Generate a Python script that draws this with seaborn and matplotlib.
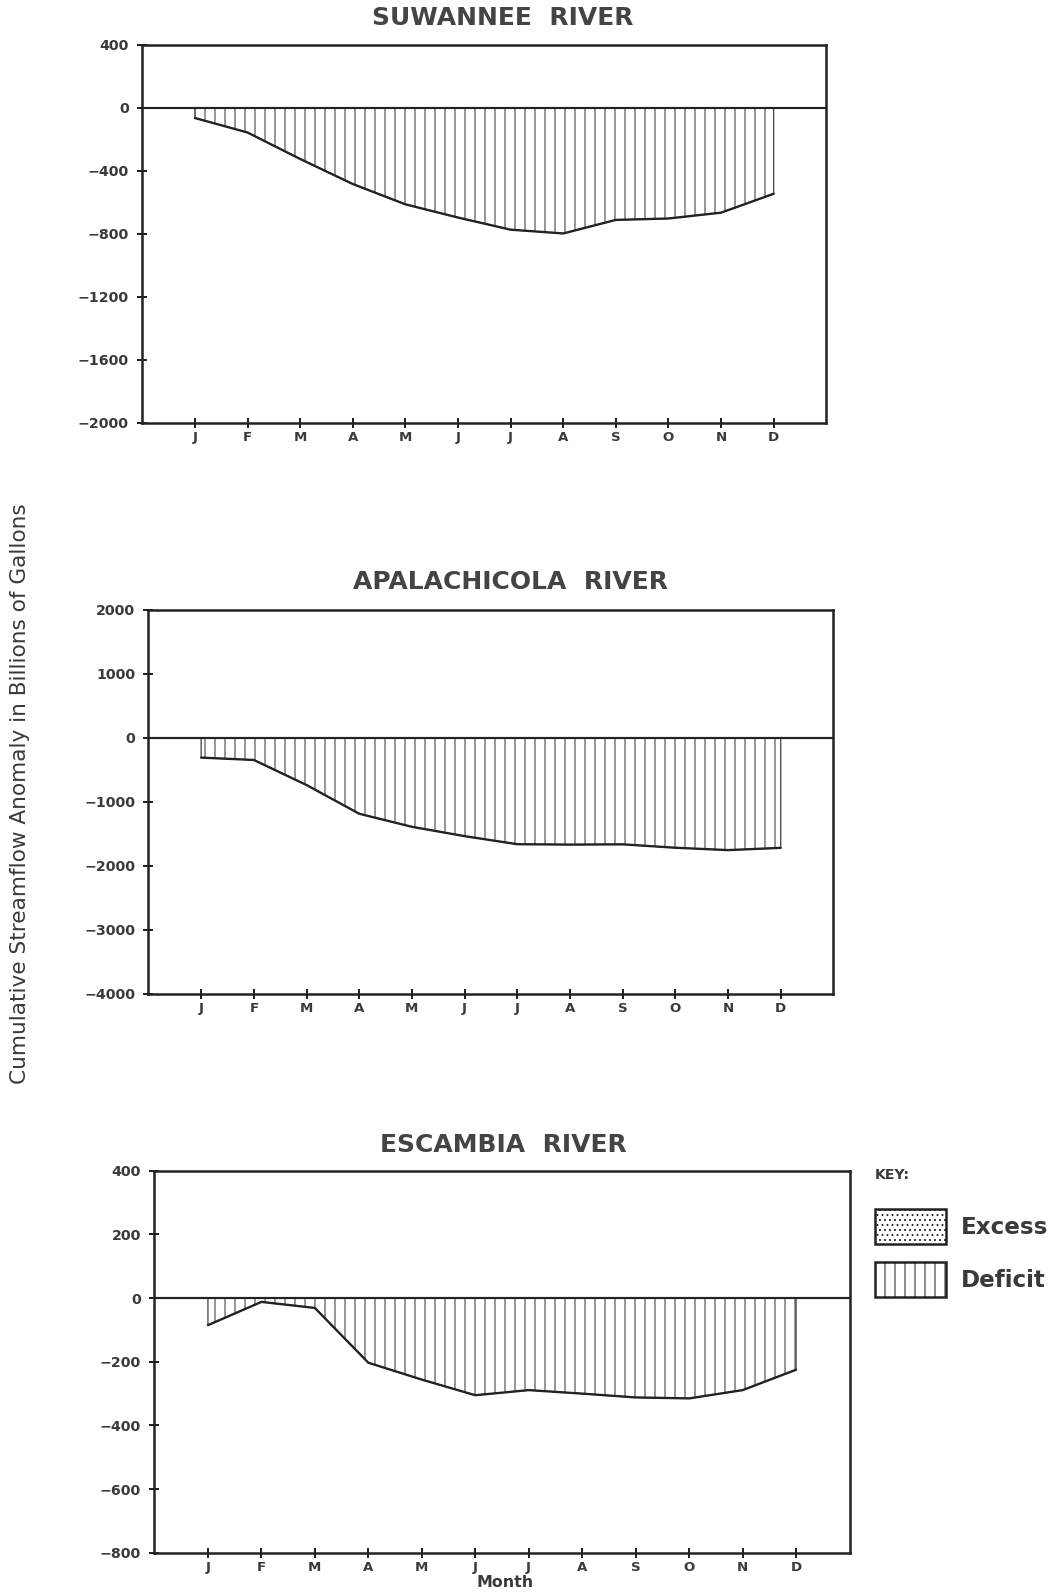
import matplotlib
matplotlib.use("Agg")
import matplotlib.pyplot as plt
import numpy as np
import pandas as pd
import seaborn as sns
from matplotlib.patches import Patch

# Monthly cumulative streamflow anomaly, billions of gallons
months = ["J", "F", "M", "A", "M", "J", "J", "A", "S", "O", "N", "D"]
suwannee = [-65, -157, -325, -484, -613, -697, -774, -798, -712, -703, -666, -546]
apalachicola = [-309, -346, -737, -1186, -1390, -1536, -1662, -1668, -1664, -1717, -1754, -1719]
escambia = [-85, -12, -31, -203, -256, -305, -289, -300, -312, -315, -289, -225]

titles = ["SUWANNEE  RIVER", "APALACHICOLA  RIVER", "ESCAMBIA  RIVER"]
y_limits = [(-2000, 400), (-4000, 2000), (-800, 400)]
y_steps = [400, 1000, 200]

sns.set_theme(style="white")
plt.rcParams["font.family"] = ["DejaVu Sans"]
plt.rcParams["hatch.linewidth"] = 0.6
plt.rcParams["hatch.color"] = "#333333"

INK = "#222222"
TXT = "#3a3a3a"

fig = plt.figure(figsize=(1061 / 120, 1593 / 120), dpi=120)
fig.patch.set_facecolor("white")

# axes rectangles [left, bottom, width, height]
rects = [
    [0.1341, 0.7346, 0.6447, 0.2373],
    [0.1399, 0.3761, 0.6456, 0.2411],
    [0.1456, 0.0252, 0.6551, 0.2399],
]
title_pos = [(0.474, 0.9885), (0.481, 0.6345), (0.4745, 0.2813)]

series = [suwannee, apalachicola, escambia]
for vals, title, rect, ylim, step, tpos in zip(series, titles, rects, y_limits, y_steps, title_pos):
    ax = fig.add_axes(rect)
    df = pd.DataFrame({"month": np.arange(len(months)), "anomaly": vals})
    ax.fill_between(df["month"], df["anomaly"], 0, facecolor="none",
                    edgecolor="#333333", hatch="||", linewidth=0.7)
    sns.lineplot(data=df, x="month", y="anomaly", color=INK, linewidth=1.4, ax=ax)
    ax.axhline(0, color=INK, linewidth=1.3)

    ax.set_xlim(-1, 12)
    ax.set_ylim(*ylim)
    ax.set_xticks(np.arange(len(months)))
    ax.set_xticklabels(months)
    ax.set_yticks(np.arange(ylim[0], ylim[1] + 1, step))
    ax.set_xlabel("")
    ax.set_ylabel("")
    for sp in ax.spines.values():
        sp.set_visible(True)
        sp.set_color(INK)
        sp.set_linewidth(1.5)
    ax.tick_params(axis="both", which="major", bottom=True, left=True,
                   direction="inout", length=6, width=1.2, color=INK,
                   labelcolor=TXT)
    ax.tick_params(axis="x", pad=2, labelsize=8)
    ax.tick_params(axis="y", pad=5, labelsize=8.5)
    for lab in ax.get_xticklabels() + ax.get_yticklabels():
        lab.set_fontweight("bold")
    ax.set_facecolor("white")

    fig.text(tpos[0], tpos[1], title, ha="center", va="center",
             fontsize=15, fontweight="bold", color="#444444")

fig.text(0.019, 0.5016, "Cumulative Streamflow Anomaly in Billions of Gallons",
         rotation=90, ha="center", va="center", fontsize=13, color=TXT)
fig.text(0.476, 0.0063, "Month", ha="center", va="center",
         fontsize=9.5, fontweight="bold", color=TXT)

handles = [
    Patch(facecolor="white", edgecolor=INK, hatch="....", linewidth=1.5, label="Excess"),
    Patch(facecolor="white", edgecolor=INK, hatch="||", linewidth=1.5, label="Deficit"),
]
leg = fig.legend(handles=handles, title="KEY:", loc="upper left",
                 bbox_to_anchor=(0.8247, 0.2665), frameon=False,
                 fontsize=13.8, handlelength=3.1, handleheight=1.95,
                 handletextpad=0.65, labelspacing=0.8, borderpad=0,
                 borderaxespad=0, alignment="left",
                 title_fontproperties={"size": 8.5, "weight": "bold"})
for t in leg.get_texts():
    t.set_fontweight("bold")
    t.set_color(TXT)
leg.get_title().set_color(TXT)
leg._legend_box.sep = 16

fig.savefig("out.png", dpi=120, facecolor="white")
